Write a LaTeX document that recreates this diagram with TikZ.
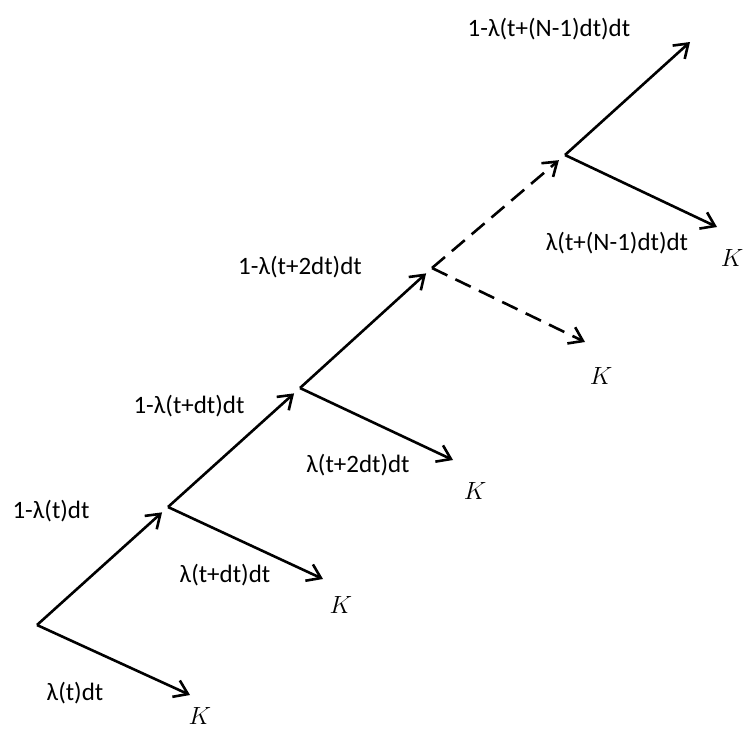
\documentclass[tikz,border=0pt]{standalone}
\usepackage{fontspec}
\setmainfont{Carlito}
\usetikzlibrary{arrows.meta}
\tikzset{
	drevo/.style={x=1pt, y=-1pt, font=\fontsize{25}{29}\selectfont,
	              >={Straight Barb[length=13pt,width=18pt]}},
	veja/.style={->, line width=2.6pt},
	naprej/.style={veja, shorten >=8pt},
	crtkano/.style={dash pattern=on 17pt off 9pt},
	verjetnost/.style={inner sep=0pt},
	konec/.style={font=\fontsize{28}{30}\selectfont, inner sep=0pt},
}

\begin{document}
\begin{tikzpicture}[drevo]
\useasboundingbox (0,0) rectangle (743,728);

% razvejitve
\coordinate (v0) at (37,625);
\coordinate (v1) at (168,507);
\coordinate (v2) at (300,388);
\coordinate (v3) at (432,268);
\coordinate (v4) at (565,155);
\coordinate (vrh) at (690,42);

% konci pri K
\coordinate (d0) at (190,695);
\coordinate (d1) at (323,579);
\coordinate (d2) at (453,460);
\coordinate (d3) at (585,342);
\coordinate (d4) at (717,227);

\node[konec] (k0) at (200,716) {$K$};
\node[konec] (k1) at (341,605) {$K$};
\node[konec] (k2) at (475,491) {$K$};
\node[konec] (k3) at (601,376) {$K$};
\node[konec] (k4) at (732,258) {$K$};

\draw[naprej] (v0) -- (v1);
\draw[naprej] (v1) -- (v2);
\draw[naprej] (v2) -- (v3);
\draw[naprej, crtkano] (v3) -- (v4);
\draw[veja] (v4) -- (vrh);

\draw[veja] (v0) -- (d0);
\draw[veja] (v1) -- (d1);
\draw[veja] (v2) -- (d2);
\draw[veja, crtkano] (v3) -- (d3);
\draw[veja] (v4) -- (d4);

\node[verjetnost] (p0) at (75,693) {λ(t)dt};
\node[verjetnost] (q0) at (51,511) {1-λ(t)dt};
\node[verjetnost] (p1) at (225,575) {λ(t+dt)dt};
\node[verjetnost] (q1) at (189,406) {1-λ(t+dt)dt};
\node[verjetnost] (p2) at (358,465) {λ(t+2dt)dt};
\node[verjetnost] (q2) at (300,267) {1-λ(t+2dt)dt};
\node[verjetnost] (p3) at (617,243) {λ(t+(N-1)dt)dt};
\node[verjetnost] (q3) at (549,29) {1-λ(t+(N-1)dt)dt};

\end{tikzpicture}
\end{document}
